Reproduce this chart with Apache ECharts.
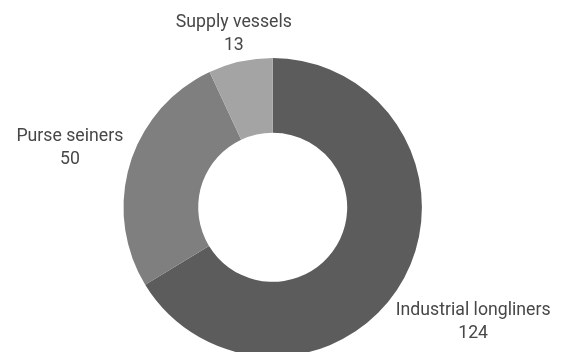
<!DOCTYPE html>
<html>
<head>
<meta charset="utf-8">
<script src="https://cdn.jsdelivr.net/npm/echarts@6/dist/echarts.min.js"></script>
<style>
  html, body { margin: 0; padding: 0; background: #ffffff; }
  #chart { width: 563px; height: 352px; }
</style>
</head>
<body>
<div id="chart"></div>
<script>
// Fleet composition by vessel type
const categories = ['Industrial longliners', 'Purse seiners', 'Supply vessels'];
const vesselCounts = [124, 50, 13];
const sliceColors = ['#5c5c5c', '#7f7f7f', '#a4a4a4'];

const CENTER = [272.7, 207.3];
const RADII = [74.5, 149.2];
const FONT_SIZE = 17.7;
const LABEL_GAP = 9;
const BASELINE_SHIFT = 2; // Roboto sits a little high in its line box

const total = vesselCounts.reduce((a, b) => a + b, 0);
// mid angle of each slice, measured clockwise from 12 o'clock
const midAngles = [];
let acc = 0;
vesselCounts.forEach(v => {
  midAngles.push((acc + v / 2) / total * 2 * Math.PI);
  acc += v;
});

const chart = echarts.init(document.getElementById('chart'), null, { renderer: 'canvas' });

chart.setOption({
  animation: false,
  series: [{
    type: 'pie',
    center: CENTER,
    radius: RADII,
    startAngle: 90,
    clockwise: true,
    avoidLabelOverlap: false,
    data: categories.map((name, i) => ({
      name: name,
      value: vesselCounts[i],
      itemStyle: { color: sliceColors[i] }
    })),
    itemStyle: { borderWidth: 0 },
    label: {
      show: true,
      position: 'outside',
      formatter: '{b}\n{c}',
      fontFamily: 'Roboto',
      fontSize: FONT_SIZE,
      lineHeight: 23.5,
      color: '#474747'
    },
    labelLine: { show: false },
    // centre each label on the slice's mid-angle, pushed just clear of the ring
    labelLayout: function (params) {
      const a = midAngles[params.dataIndex];
      const sx = Math.sin(a), cy = -Math.cos(a);
      const hw = params.labelRect.width / 2;
      const r = RADII[1] + LABEL_GAP + hw * Math.abs(sx) + FONT_SIZE / 2 * Math.abs(cy);
      return {
        x: CENTER[0] + sx * r,
        y: CENTER[1] + cy * r + BASELINE_SHIFT,
        align: 'center',
        verticalAlign: 'middle'
      };
    },
    emphasis: { disabled: true }
  }]
});
</script>
</body>
</html>
